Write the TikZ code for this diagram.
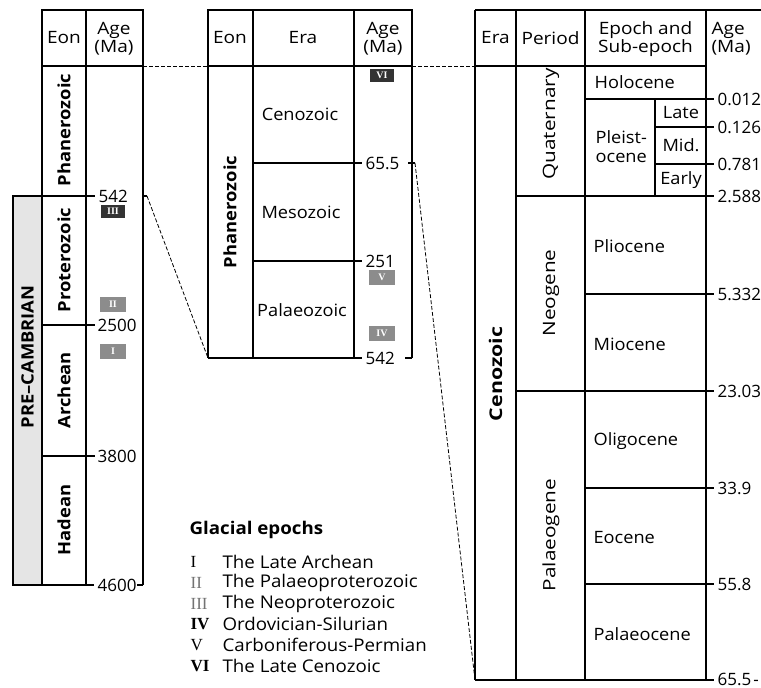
\documentclass[tikz,border=0pt]{standalone}
\usepackage{fontspec}
\setmainfont{Open Sans}
\newfontfamily\bodyfont{Open Sans}[FakeStretch=1.07]
\newfontfamily\hdrfont{Open Sans}[FakeStretch=1.12]
\newfontfamily\rotfont{Open Sans}[FakeStretch=1.22]
\newfontfamily\rotbfont{Open Sans}[FakeStretch=1.08]
\newfontfamily\romfont{Liberation Serif}
\begin{document}
\begin{tikzpicture}[x=1pt,y=-1pt,line width=1.2pt,
  lbl/.style={font=\bodyfont\fontsize{17}{19}\selectfont,inner sep=0pt},
  hdr/.style={inner sep=0pt,align=center,font=\hdrfont\fontsize{17}{18}\selectfont},
  vlbl/.style={inner sep=0pt,rotate=90,font=\rotfont\fontsize{17}{19}\selectfont},
  vblbl/.style={inner sep=0pt,rotate=90,font=\rotbfont\fontsize{17}{19}\selectfont\bfseries},
  agelbl/.style={inner sep=0pt,anchor=west,font=\fontsize{17}{19}\selectfont},
  eplbl/.style={lbl,anchor=west,align=left},
  glac/.style={fill=black!80,text=white,inner sep=0pt,minimum width=24pt,minimum height=13pt,font=\romfont\bfseries\fontsize{10}{10}\selectfont},
  glacgray/.style={glac,fill=black!45,minimum width=26pt,minimum height=15pt},
  conn/.style={line width=0.8pt,dash pattern=on 4pt off 2pt},
  legnum/.style={inner sep=0pt,anchor=west,font=\romfont\fontsize{17}{19}\selectfont},
  legtxt/.style={inner sep=0pt,anchor=west,font=\bodyfont\fontsize{17.5}{19}\selectfont}
]
\useasboundingbox (0,0) rectangle (761,688);

% ---------- left table ----------
\draw[fill=black!10] (13,196) rectangle (42,585);
\draw (42,585) -- (42,10) -- (143,10) -- (143,585);
\draw (86,10) -- (86,585);
\draw (42,66) -- (143,66);
\draw (13,196) -- (95,196);
\draw (42,325) -- (95,325);
\draw (42,456) -- (95,456);
\draw (13,585) -- (94,585);
\draw (143,196) -- (147,196);
\draw (137,585) -- (143,585);
\node[hdr] (lEon) at (64,38) {Eon};
\node[hdr] (lAge) at (114,39) {Age\\(Ma)};
\node[vblbl] (lPhan) at (64,130) {Phanerozoic};
\node[vblbl] (lProt) at (64,260) {Proterozoic};
\node[vblbl] (lArch) at (64,390) {Archean};
\node[vblbl] (lHad) at (64,520) {Hadean};
\node[vblbl] (pre) at (27.5,357) {PRE–CAMBRIAN};
\node[agelbl] (a542) at (98,196) {542};
\node[agelbl] (a2500) at (97,325) {2500};
\node[agelbl] (a3800) at (97,456) {3800};
\node[agelbl] (a4600) at (97,585) {4600};
\node[glac] (gIII) at (113,211) {III};
\node[glacgray] (gII) at (113,304) {II};
\node[glacgray] (gI) at (113,351) {I};
\coordinate (lHdrR) at (143,66);
\coordinate (l542R) at (147,196);

% ---------- middle table ----------
\draw (208,358) -- (208,10) -- (412,10) -- (412,358);
\draw (253,10) -- (253,358);
\draw (354,10) -- (354,358);
\draw (208,66) -- (412,66);
\draw (253,163) -- (362,163);
\draw (253,261) -- (362,261);
\draw (208,358) -- (362,358);
\draw (405,358) -- (412,358);
\draw (408,163) -- (415,163);
\node[hdr] (mEon) at (230,38) {Eon};
\node[hdr] (mEra) at (303,38) {Era};
\node[hdr] (mAge) at (383,39) {Age\\(Ma)};
\node[vblbl] (mPhan) at (230,212) {Phanerozoic};
\node[lbl] (mCen) at (300,114) {Cenozoic};
\node[lbl] (mMes) at (301,212) {Mesozoic};
\node[lbl] (mPal) at (302,310) {Palaeozoic};
\node[agelbl] (m655) at (365,163) {65.5};
\node[agelbl] (m251) at (365,261) {251};
\node[agelbl] (m542) at (365,358) {542};
\node[glac] (gVI) at (382,75) {VI};
\node[glacgray] (gV) at (382,277) {V};
\node[glacgray] (gIV) at (382,333) {IV};
\coordinate (mHdrL) at (208,66);
\coordinate (mHdrR) at (412,66);
\coordinate (mBotL) at (208,358);
\coordinate (m655R) at (415,163);

% ---------- right table ----------
\draw (475,10) -- (761,10);
\draw (475,10) -- (475,680);
\draw (516,10) -- (516,680);
\draw (585,10) -- (585,680);
\draw (706,10) -- (706,680);
\draw (655,99) -- (655,196);
\draw (475,66) -- (706,66);
\draw (585,99) -- (714,99);
\draw (655,127) -- (714,127);
\draw (655,164) -- (714,164);
\draw (516,196) -- (714,196);
\draw (585,294) -- (714,294);
\draw (516,391) -- (714,391);
\draw (585,488) -- (714,488);
\draw (585,584) -- (714,584);
\draw (475,680) -- (714,680);
\node[hdr] (rEra) at (495.5,38) {Era};
\node[hdr] (rPer) at (550.5,38) {Period};
\node[hdr] (rEp) at (645.5,39) {Epoch and\\Sub-epoch};
\node[hdr,anchor=west,align=left] (rAge) at (711,39) {Age\\(Ma)};
\node[vblbl,font=\rotfont\fontsize{17.5}{19}\selectfont\bfseries] (rCen) at (495.5,374) {Cenozoic};
\node[vlbl] (rQua) at (551,124) {Quaternary};
\node[vlbl] (rNeo) at (551,293) {Neogene};
\node[vlbl] (rPalg) at (551,535) {Palaeogene};
\node[eplbl] (rHol) at (594,82) {Holocene};
\node[eplbl] (rPle) at (595,147) {Pleist-\\ocene};
\node[lbl] (rLate) at (681,113) {Late};
\node[lbl] (rMid) at (681,145.5) {Mid.};
\node[lbl] (rEarly) at (681,180) {Early};
\node[eplbl] (rPlio) at (593,246) {Pliocene};
\node[eplbl] (rMio) at (593,344) {Miocene};
\node[eplbl] (rOli) at (593,441) {Oligocene};
\node[eplbl] (rEoc) at (593,538) {Eocene};
\node[eplbl] (rPalc) at (593,634) {Palaeocene};
\node[agelbl] (r0012) at (717,99) {0.012};
\node[agelbl] (r0126) at (717,127) {0.126};
\node[agelbl] (r0781) at (717,164) {0.781};
\node[agelbl] (r2588) at (717,196) {2.588};
\node[agelbl] (r5332) at (717,294) {5.332};
\node[agelbl] (r2303) at (717,391) {23.03};
\node[agelbl] (r339) at (717,488) {33.9};
\node[agelbl] (r558) at (717,584) {55.8};
\node[agelbl] (r655) at (717,679) {65.5\hspace{2pt}-};
\coordinate (rHdrL) at (475,66);
\coordinate (rBotL) at (475,680);

% ---------- dashed connectors ----------
\draw[conn] (lHdrR) -- (mHdrL);
\draw[conn] (mHdrR) -- (rHdrL);
\draw[conn] (l542R) -- (mBotL);
\draw[conn] (m655R) -- (rBotL);

% ---------- legend ----------
\node[inner sep=0pt,anchor=west,font=\bodyfont\fontsize{17.5}{19}\selectfont\bfseries] (legT) at (189,530) {Glacial epochs};
\node[legnum] (n1) at (190,562) {I};
\node[legnum,text=black!55] (n2) at (190,583) {II};
\node[legnum,text=black!55] (n3) at (190,604) {III};
\node[legnum,font=\romfont\bfseries\fontsize{17}{19}\selectfont] (n4) at (190,624) {IV};
\node[legnum] (n5) at (190,645) {V};
\node[legnum,font=\romfont\bfseries\fontsize{17}{19}\selectfont] (n6) at (190,666) {VI};
\node[legtxt] (t1) at (222,562) {The Late Archean};
\node[legtxt] (t2) at (222,583) {The Palaeoproterozoic};
\node[legtxt] (t3) at (222,604) {The Neoproterozoic};
\node[legtxt] (t4) at (222,624) {Ordovician-Silurian};
\node[legtxt] (t5) at (222,645) {Carboniferous-Permian};
\node[legtxt] (t6) at (222,666) {The Late Cenozoic};
\end{tikzpicture}
\end{document}
